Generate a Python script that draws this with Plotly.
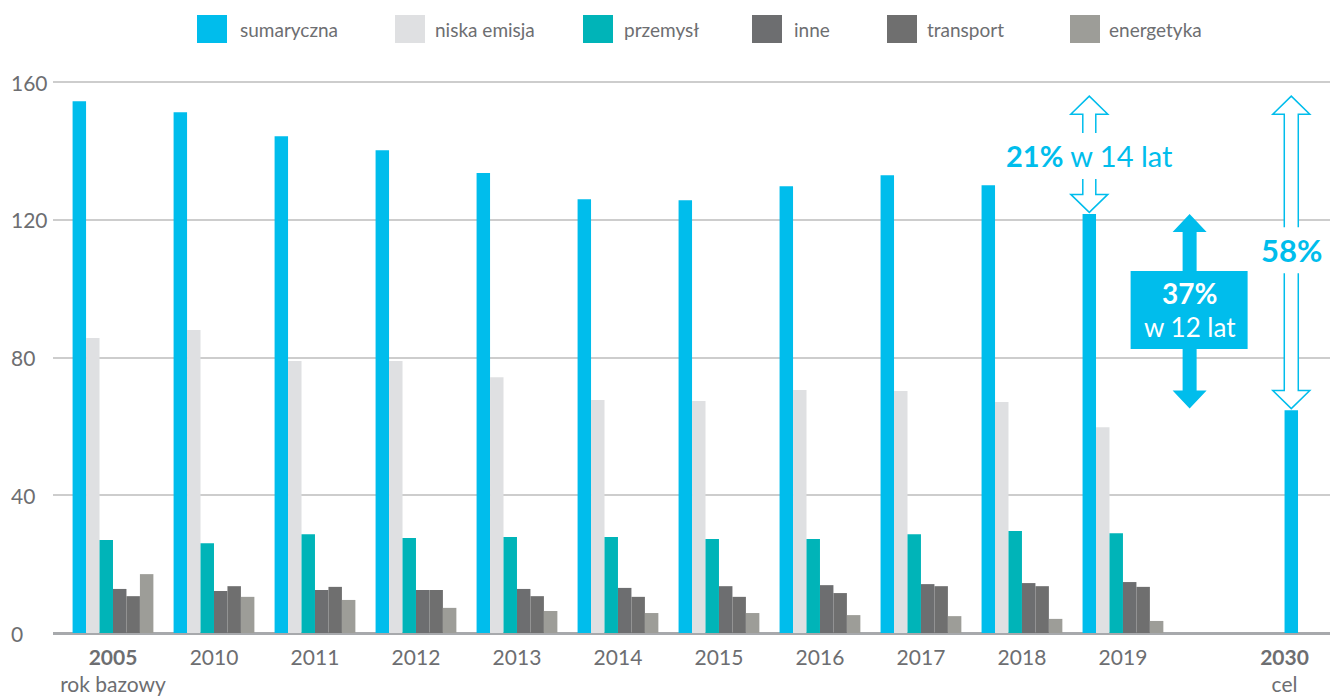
import plotly.graph_objects as go

# ---------------- data ----------------
years = ["2005", "2010", "2011", "2012", "2013", "2014", "2015",
         "2016", "2017", "2018", "2019", "2030"]
year_sub = {"2005": "rok bazowy", "2030": "cel"}
bold_years = ["2005", "2030"]

sumaryczna = [154.5, 151.3, 144.3, 140.2, 133.6, 126.0, 125.7, 129.8, 133.0, 130.1, 121.7, 64.7]
niska_emisja = [85.7, 88.0, 79.0, 79.0, 74.3, 67.7, 67.4, 70.6, 70.3, 67.1, 59.8, None]
przemysl = [27.0, 26.1, 28.7, 27.6, 27.9, 27.9, 27.3, 27.3, 28.7, 29.6, 29.0, None]
inne = [12.8, 12.2, 12.5, 12.5, 12.8, 13.1, 13.6, 13.9, 14.2, 14.5, 14.8, None]
transport = [10.7, 13.6, 13.4, 12.5, 10.7, 10.5, 10.5, 11.6, 13.6, 13.6, 13.4, None]
energetyka = [17.1, 10.5, 9.6, 7.3, 6.4, 5.8, 5.8, 5.2, 4.9, 4.1, 3.5, None]

series_names = ["sumaryczna", "niska emisja", "przemysł", "inne", "transport", "energetyka"]
series_values = [sumaryczna, niska_emisja, przemysl, inne, transport, energetyka]
series_colors = ["#00BDEC", "#DFE0E2", "#00B4B8", "#6D6E70", "#6F6F6F", "#9D9D98"]

y_ticks = [0, 40, 80, 120, 160]

# ---------------- layout constants ----------------
W, H = 1333, 699
ML, MR, MT, MB = 53, 3, 65, 66
YMAX = 165
XMIN, XMAX = -0.594, 12.05
PLOT_W = W - ML - MR
PLOT_H = H - MT - MB
PXU = PLOT_H / YMAX  # pixels per y unit

CYAN = "#00BDEC"
GRAY_TXT = "#6D6E71"
FONT = "Lato"

# x positions: one empty slot between 2019 and 2030
x_pos = list(range(len(years) - 1)) + [len(years)]
BARGAP = 0.2
n_series = len(series_names)
bar_w = (1 - BARGAP) / n_series
first_bar_offset = -(1 - BARGAP) / 2 + bar_w / 2  # offset of 'sumaryczna' bar

def px_x(p):
    return (p - ML) / PLOT_W

def px_y(p):
    return (H - MB - p) / PLOT_H

fig = go.Figure()
for name, vals, col in zip(series_names, series_values, series_colors):
    fig.add_trace(go.Bar(x=x_pos, y=vals, name=name, marker_color=col,
                         marker_line_width=0, showlegend=False))

# tick labels (2030 label sits under its bar, not the empty group center)
tickvals = x_pos[:-1] + [x_pos[-1] - 0.4]
ticktext = []
for yv in years:
    t = f"<b>{yv}</b>" if yv in bold_years else yv
    if yv in year_sub:
        t += "<br>" + year_sub[yv]
    ticktext.append(t)

shapes = []
annotations = []

# custom legend
leg_sw_x = [197, 395, 583, 752, 887, 1070]
leg_tx_x = [238, 433, 622, 792, 925, 1107]
for name, col, sx, tx in zip(series_names, series_colors, leg_sw_x, leg_tx_x):
    shapes.append(dict(type="rect", xref="paper", yref="paper",
                       x0=px_x(sx), x1=px_x(sx + 30), y0=px_y(43), y1=px_y(15),
                       fillcolor=col, line_width=0, layer="above"))
    annotations.append(dict(text=name, xref="paper", yref="paper", x=px_x(tx), y=px_y(29),
                            xanchor="left", yanchor="middle", showarrow=False,
                            font=dict(family=FONT, size=19, color=GRAY_TXT)))

# y tick labels, left aligned
for v in y_ticks:
    annotations.append(dict(text=str(v), xref="paper", yref="y", x=px_x(9), y=v,
                            xanchor="left", yanchor="middle", showarrow=False,
                            font=dict(family=FONT, size=21, color=GRAY_TXT)))

# ---------------- arrows ----------------
def half_arrow(xa, y_tip, y_end, s, h, hh, up, line_col, fill_col, lw):
    d = 1 if up else -1
    yb = y_tip - d * hh / PXU
    path = (f"M {-s},{y_end} L {-s},{yb} L {-h},{yb} L 0,{y_tip} "
            f"L {h},{yb} L {s},{yb} L {s},{y_end}")
    return dict(type="path", xref="x", yref="y", xsizemode="pixel", xanchor=xa,
                path=path, line=dict(color=line_col, width=lw), fillcolor=fill_col,
                layer="above")

GAP = 5 / PXU
i2019 = years.index("2019")
i2030 = years.index("2030")
x2019_bar = x_pos[i2019] + first_bar_offset
x2030_bar = x_pos[i2030] + first_bar_offset

# 21% arrow over the 2019 bar: from 2005 level down to 2019 level
top21 = sumaryczna[0] + GAP
bot21 = sumaryczna[i2019] + GAP / 3
txt21_y = (top21 + bot21) / 2 - 0.5
brk = 23 / PXU
shapes.append(half_arrow(x2019_bar, top21, txt21_y + brk, 6.5, 18.5, 18, True, CYAN, "white", 1.5))
shapes.append(half_arrow(x2019_bar, bot21, txt21_y - brk, 6.5, 18.5, 18, False, CYAN, "white", 1.5))
annotations.append(dict(text="<b>21%</b> w 14 lat", x=x2019_bar, y=txt21_y, xref="x", yref="y",
                        showarrow=False, xanchor="center", yanchor="middle",
                        font=dict(family=FONT, size=29, color=CYAN)))

# 58% arrow over the 2030 bar
top58 = sumaryczna[0] + GAP
bot58 = sumaryczna[i2030] + GAP / 3
txt58_y = 111.2
shapes.append(half_arrow(x2030_bar, top58, txt58_y + brk, 7, 18.5, 18, True, CYAN, "white", 1.5))
shapes.append(half_arrow(x2030_bar, bot58, txt58_y - brk, 7, 18.5, 18, False, CYAN, "white", 1.5))
annotations.append(dict(text="<b>58%</b>", x=x2030_bar, y=txt58_y, xref="x", yref="y",
                        showarrow=False, xanchor="center", yanchor="middle",
                        font=dict(family=FONT, size=31, color=CYAN)))

# 37% filled arrow between 2019 and 2030 levels
x37 = x_pos[i2019] + 0.66
top37 = sumaryczna[i2019]
bot37 = sumaryczna[i2030] + GAP / 3
s, h, hh = 7, 17, 18
ybt = top37 - hh / PXU
ybb = bot37 + hh / PXU
path37 = (f"M {-s},{ybb} L {-s},{ybt} L {-h},{ybt} L 0,{top37} L {h},{ybt} L {s},{ybt} "
          f"L {s},{ybb} L {h},{ybb} L 0,{bot37} L {-h},{ybb} Z")
shapes.append(dict(type="path", xref="x", yref="y", xsizemode="pixel", xanchor=x37,
                   path=path37, line_width=0, fillcolor=CYAN, layer="above"))
box_top = (H - MB - 271) / PXU
box_bot = (H - MB - 349) / PXU
shapes.append(dict(type="rect", xref="x", yref="y", xsizemode="pixel", xanchor=x37,
                   x0=-59, x1=58, y0=box_bot, y1=box_top, line_width=0,
                   fillcolor=CYAN, layer="above"))
annotations.append(dict(text="<b>37%</b>", x=x37, y=box_top - 22 / PXU, xref="x", yref="y",
                        showarrow=False, xanchor="center", yanchor="middle",
                        font=dict(family=FONT, size=28, color="white")))
annotations.append(dict(text="w 12 lat", x=x37, y=box_top - 56 / PXU, xref="x", yref="y",
                        showarrow=False, xanchor="center", yanchor="middle",
                        font=dict(family=FONT, size=26, color="white")))

fig.update_layout(
    width=W, height=H,
    margin=dict(l=ML, r=MR, t=MT, b=MB),
    paper_bgcolor="white", plot_bgcolor="white",
    barmode="group", bargap=BARGAP, bargroupgap=0,
    showlegend=False,
    font=dict(family=FONT, color=GRAY_TXT),
    xaxis=dict(range=[XMIN, XMAX], tickvals=tickvals, ticktext=ticktext,
               showgrid=False, zeroline=False, showline=False, ticks="",
               ticklabelstandoff=10,
               tickfont=dict(family=FONT, size=21, color=GRAY_TXT)),
    yaxis=dict(range=[0, YMAX], tickvals=y_ticks, showticklabels=False,
               showgrid=True, gridcolor="#CDCDCD", gridwidth=1.5,
               zeroline=True, zerolinecolor="#A7A9AC", zerolinewidth=2.5,
               showline=False, ticks=""),
    shapes=shapes, annotations=annotations,
)

fig.write_html("out.html", config={"displayModeBar": False},
               post_script="document.body.style.margin='0';")
